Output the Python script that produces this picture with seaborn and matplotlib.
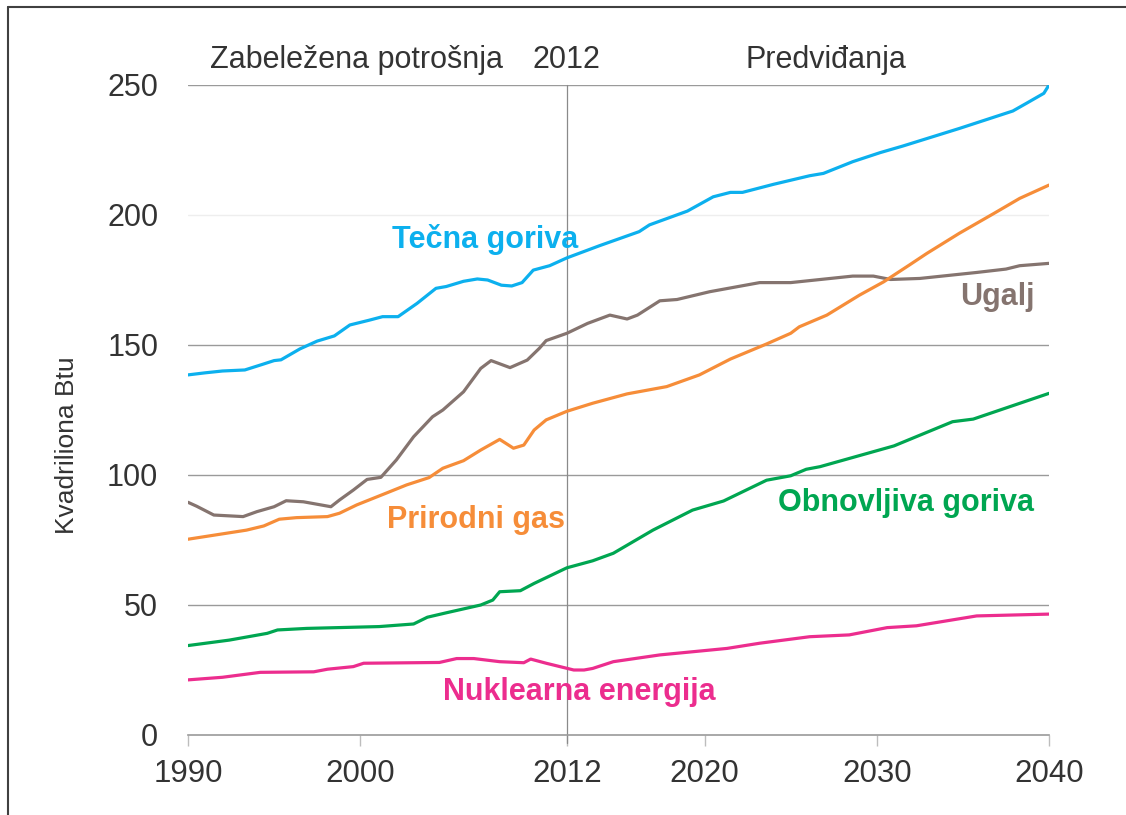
import matplotlib
matplotlib.use("Agg")
import matplotlib.pyplot as plt
import seaborn as sns
import pandas as pd
from matplotlib.lines import Line2D

# ---------------- data ----------------
liq_years = [1990, 1991, 1992, 1993.3, 1994.3, 1995, 1995.4, 1996.5, 1997.5, 1998.5, 1999.4,
             2000.5, 2001.3, 2002.2, 2003.3, 2004.4, 2005, 2006, 2006.8, 2007.4, 2008.2, 2008.8,
             2009.4, 2010.05, 2011, 2012, 2013.9, 2016.2, 2016.8, 2019, 2020.5, 2021.5, 2022.2,
             2024, 2026.1, 2026.9, 2028.6, 2030.2, 2031.5, 2034.8, 2037.9, 2038.7, 2039.7, 2040]
liq_vals = [138.5, 139.3, 140, 140.4, 142.5, 144, 144.3, 148.5, 151.5, 153.5, 157.7,
            159.5, 160.9, 160.9, 166, 171.8, 172.5, 174.5, 175.4, 175, 173, 172.7,
            174, 178.8, 180.5, 183.5, 188.2, 193.6, 196.2, 201.5, 207, 208.7, 208.7,
            211.8, 215.1, 216, 220.5, 224, 226.5, 233.3, 240, 243, 246.8, 250]

coal_years = [1990, 1990.5, 1991.5, 1993.2, 1994, 1995, 1995.7, 1996.7, 1998.3, 1998.8, 1999.6,
              2000.4, 2001.2, 2002.1, 2003.1, 2004.2, 2004.8, 2006, 2007, 2007.6, 2008.7, 2009.7,
              2010.4, 2010.8, 2012, 2013.2, 2014.5, 2015.5, 2016.1, 2017.4, 2018.4, 2020.3,
              2023.2, 2025, 2028.6, 2029.8, 2030.8, 2032.5, 2035.8, 2037.5, 2038.3, 2040]
coal_vals = [89.5, 88, 84.6, 84.0, 85.9, 87.8, 90.1, 89.7, 87.8, 90.4, 94.2,
             98.3, 99.1, 105.8, 114.7, 122.4, 125, 132, 141, 144, 141.3, 144.2,
             148.7, 151.7, 154.5, 158.3, 161.5, 160, 161.5, 167, 167.5, 170.5,
             174, 174, 176.5, 176.5, 175.2, 175.6, 177.9, 179.2, 180.5, 181.4]

gas_years = [1990, 1993.4, 1994.4, 1995.3, 1996.3, 1998.1, 1998.8, 1999.8, 2001.5, 2002.7, 2004,
             2004.8, 2006, 2007, 2008.1, 2008.9, 2009.5, 2010.1, 2010.8, 2012, 2013.5, 2015.5,
             2017.8, 2019.7, 2021.5, 2023.6, 2025, 2025.5, 2027.1, 2029, 2030.4, 2031.9, 2032.9,
             2034.8, 2036.8, 2038.3, 2040]
gas_vals = [75.3, 78.8, 80.4, 83, 83.6, 84, 85.3, 88.5, 93, 96.2, 99,
            102.6, 105.5, 109.6, 113.7, 110.3, 111.5, 117.3, 121.2, 124.5, 127.6, 131.2,
            134, 138.5, 144.6, 150.4, 154.5, 157, 161.5, 169.2, 174.3, 180.8, 185.2,
            193, 200.6, 206.4, 211.5]

ren_years = [1990, 1992.4, 1994.6, 1995.2, 1996.9, 2001.1, 2003.1, 2003.9, 2005, 2007, 2007.7,
             2008.1, 2009.3, 2010.1, 2012, 2013.5, 2014.7, 2017, 2019.3, 2021.1, 2023.6, 2025,
             2025.9, 2026.7, 2031, 2034.4, 2035.6, 2040]
ren_vals = [34.4, 36.5, 39.1, 40.4, 41, 41.7, 42.7, 45.3, 47, 50, 51.9,
            55.1, 55.5, 58.3, 64.3, 67, 69.9, 78.8, 86.5, 90, 98, 99.7,
            102.2, 103.2, 111.2, 120.5, 121.5, 131.4]

nuc_years = [1990, 1992, 1994.2, 1997.3, 1998.1, 1999.6, 2000.2, 2004.6, 2005.6, 2006.6, 2008.1,
             2009.5, 2009.9, 2010.8, 2012.4, 2013, 2013.5, 2014.7, 2017.4, 2021.3, 2023.2, 2026.1,
             2028.4, 2030.6, 2032.3, 2035.8, 2040]
nuc_vals = [21.2, 22.2, 24.1, 24.3, 25.3, 26.3, 27.6, 27.9, 29.4, 29.4, 28.2,
            27.8, 29.2, 27.6, 25, 25, 25.6, 28.2, 30.8, 33.3, 35.3, 37.8,
            38.5, 41.3, 42, 45.8, 46.5]

series_names = ["Tečna goriva", "Ugalj", "Prirodni gas", "Obnovljiva goriva", "Nuklearna energija"]
x_ticks = [1990, 2000, 2012, 2020, 2030, 2040]
y_ticks = [0, 50, 100, 150, 200, 250]
split_year = 2012

colors = {
    "Tečna goriva": "#0cb0ee",
    "Ugalj": "#85746f",
    "Prirodni gas": "#f68d39",
    "Obnovljiva goriva": "#00a651",
    "Nuklearna energija": "#ec2d8e",
}

frames = []
for name, yrs, vals in zip(series_names,
                           [liq_years, coal_years, gas_years, ren_years, nuc_years],
                           [liq_vals, coal_vals, gas_vals, ren_vals, nuc_vals]):
    frames.append(pd.DataFrame({"year": yrs, "value": vals, "series": name}))
df = pd.concat(frames, ignore_index=True)

# ---------------- style ----------------
sns.set_theme(style="white")
plt.rcParams["font.family"] = ["Liberation Sans", "DejaVu Sans"]

fig = plt.figure(figsize=(11.26, 8.15), dpi=100)
ax = fig.add_axes([188 / 1126, 80 / 815, 861 / 1126, 650 / 815])

sns.lineplot(data=df, x="year", y="value", hue="series", palette=colors,
             estimator=None, sort=False, linewidth=2.3, legend=False, ax=ax)
for ln in ax.get_lines():
    ln.set_solid_joinstyle("round")
    ln.set_solid_capstyle("round")

ax.set_xlim(1990, 2040)
ax.set_ylim(0, 250)
ax.set_xticks(x_ticks)
ax.set_yticks(y_ticks)
ax.set_xticklabels([str(t) for t in x_ticks])
ax.set_yticklabels([str(t) for t in y_ticks])

for s in ["left", "right", "top"]:
    ax.spines[s].set_visible(False)
ax.spines["bottom"].set_color("#9a9a9a")
ax.spines["bottom"].set_linewidth(1.2)

ax.tick_params(axis="x", direction="out", length=8, width=1, color="#bdbdbd",
               labelsize=22.5, labelcolor="#333333", pad=9, bottom=True)
ax.tick_params(axis="y", length=0, labelsize=22, labelcolor="#333333", pad=21.5)

ax.yaxis.grid(True, color="#9a9a9a", linewidth=1.0)
ax.xaxis.grid(False)
for tick_val, gl in zip(y_ticks, ax.get_ygridlines()):
    if tick_val == 200:
        gl.set_color("#eeeeee")
    if tick_val == 0:
        gl.set_visible(False)
ax.set_axisbelow(True)

ax.axvline(split_year, ymin=-0.012, ymax=1, color="#8a8a8a", linewidth=0.9,
           clip_on=False, zorder=1)

ax.set_xlabel("")
ax.set_ylabel("Kvadriliona Btu", fontsize=19, color="#333333")
ax.yaxis.set_label_coords(-0.127, 0.446)

# top annotations
ax.text(1999.8, 259.5, "Zabeležena potrošnja", ha="center", va="center",
        fontsize=22, color="#333333", clip_on=False)
ax.text(2012, 259.5, "2012", ha="center", va="center",
        fontsize=22, color="#333333", clip_on=False)
ax.text(2027.05, 259.5, "Predviđanja", ha="center", va="center",
        fontsize=22, color="#333333", clip_on=False)

# series labels
label_pos = {
    "Tečna goriva": (2007.25, 190.5),
    "Ugalj": (2037.0, 168.5),
    "Prirodni gas": (2006.7, 82.7),
    "Obnovljiva goriva": (2031.7, 89.3),
    "Nuklearna energija": (2012.7, 16.5),
}
for name, (xx, yy) in label_pos.items():
    ax.text(xx, yy, name, ha="center", va="center", fontsize=22,
            fontweight="bold", color=colors[name])

# outer frame (top and left edges)
fig.add_artist(Line2D([8 / 1126, 8 / 1126], [0, 1 - 7 / 815], transform=fig.transFigure,
                      color="#404040", linewidth=1.5))
fig.add_artist(Line2D([8 / 1126, 1], [1 - 7 / 815, 1 - 7 / 815], transform=fig.transFigure,
                      color="#404040", linewidth=1.5))

fig.savefig("out.png", dpi=100)
